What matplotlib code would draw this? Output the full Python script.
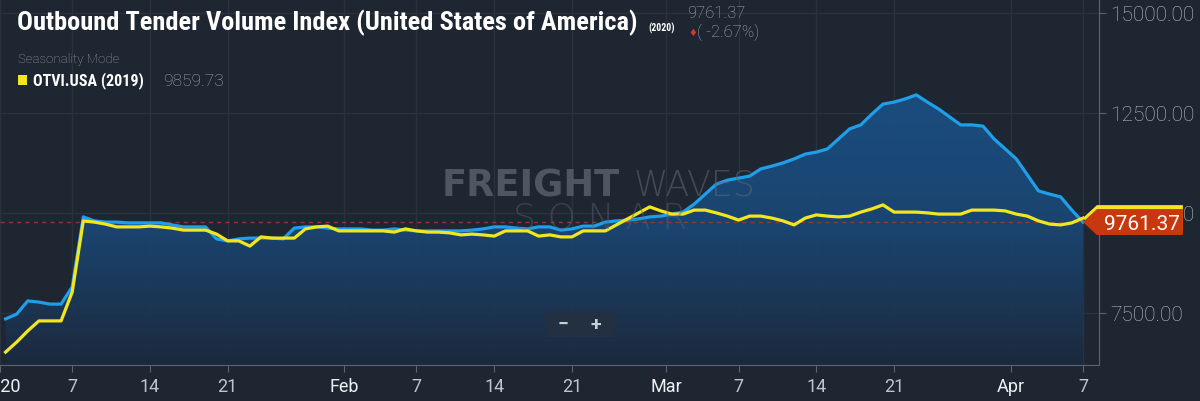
import numpy as np
import pandas as pd
import matplotlib
matplotlib.use("Agg")
import matplotlib.pyplot as plt
import matplotlib.dates as mdates
from matplotlib import font_manager
from matplotlib.patches import Polygon, Rectangle, PathPatch
from matplotlib.colors import LinearSegmentedColormap
from matplotlib.transforms import IdentityTransform

# daily values, Jan 1 .. Apr 7 2020
dates = pd.date_range("2020-01-01", "2020-04-07", freq="D")

otvi_2020 = [
    7340, 7460, 7790, 7760, 7710, 7710, 8140, 9890, 9790, 9760,
    9760, 9740, 9740, 9740, 9740, 9690, 9640, 9640, 9640, 9340,
    9290, 9340, 9360, 9360, 9360, 9340, 9610, 9640, 9640, 9610,
    9590, 9590, 9590, 9560, 9560, 9590, 9560, 9540, 9540, 9540,
    9540, 9540, 9560, 9590, 9640, 9640, 9610, 9590, 9640, 9640,
    9560, 9590, 9660, 9660, 9760, 9790, 9810, 9840, 9890, 9910,
    9960, 10010, 10210, 10460, 10710, 10810, 10860, 10910, 11090, 11160,
    11240, 11340, 11460, 11510, 11590, 11840, 12090, 12190, 12460, 12710,
    12760, 12840, 12940, 12760, 12590, 12390, 12190, 12190, 12160, 11840,
    11590, 11340, 10940, 10540, 10460, 10390, 10060, 9761.37,
]

otvi_2019 = [
    6510, 6760, 7040, 7290, 7290, 7290, 8010, 9790, 9760, 9710,
    9640, 9640, 9640, 9660, 9640, 9610, 9560, 9560, 9560, 9460,
    9290, 9290, 9160, 9390, 9360, 9360, 9360, 9590, 9640, 9660,
    9540, 9540, 9540, 9540, 9540, 9510, 9590, 9540, 9510, 9510,
    9490, 9440, 9460, 9440, 9410, 9540, 9540, 9540, 9410, 9440,
    9390, 9390, 9540, 9540, 9540, 9690, 9840, 9990, 10140, 10040,
    9960, 9960, 10060, 10060, 9990, 9910, 9810, 9910, 9910, 9860,
    9790, 9690, 9860, 9940, 9910, 9890, 9910, 10010, 10090, 10190,
    10010, 10010, 10010, 9990, 9960, 9960, 9960, 10060, 10060, 10060,
    10040, 9960, 9910, 9790, 9710, 9690, 9740, 9859.73,
]

last_2020 = 9761.37
last_2019 = 9859.73
change_pct = -2.67

y_ticks = [7500, 10000, 12500, 15000]
month_ticks = ["2020-01-01", "2020-02-01", "2020-03-01", "2020-04-01"]
month_labels = ["2020", "Feb", "Mar", "Apr"]
day_ticks = ["2020-01-07", "2020-01-14", "2020-01-21",
             "2020-02-07", "2020-02-14", "2020-02-21",
             "2020-03-07", "2020-03-14", "2020-03-21", "2020-04-07"]
day_labels = ["7", "14", "21", "7", "14", "21", "7", "14", "21", "7"]

BG = "#1e2631"
BLUE = "#1f9ee9"
YELLOW = "#f2e71f"
GRID = "#29323d"
AXIS = "#5b6470"

available = {f.name for f in font_manager.fontManager.ttflist}
narrow = next((f for f in ["Roboto Condensed", "Liberation Sans Narrow", "Roboto"]
               if f in available), "DejaVu Sans")
plt.rcParams["font.family"] = ["Roboto", "DejaVu Sans"]

fig = plt.figure(figsize=(12, 4.02), dpi=100, facecolor=BG)
ax = fig.add_axes([0, 1 - 366 / 402, 1099 / 1200, 366 / 402])
ax.set_facecolor(BG)

x = mdates.date2num(dates)
ylo, yhi = 6187.5, 15337.5
x0, x1 = x[0] - 0.29, x[0] + 98.45
ax.set_xlim(x0, x1)
ax.set_ylim(ylo, yhi)

# watermark (sits behind the area fill)
def px(xp, yp):
    return xp / 1200, 1 - yp / 402

fig.text(*px(442, 186), "FREIGHT", fontsize=26.5, fontweight="bold",
         family=["DejaVu Sans"], color="#5b636d", alpha=0.8, va="center")
fig.text(*px(634, 186), "WAVES", fontsize=25, fontweight="light",
         family=["DejaVu Sans"], color="#5b636d", alpha=0.6, va="center")
fig.text(*px(600, 219), "S O N A R", fontsize=26, fontweight="light",
         family=["DejaVu Sans"], color="#5b636d", alpha=0.45,
         va="center", ha="center")

# gradient area under 2020 line
poly = ax.fill_between(x, otvi_2020, ylo, color="none", lw=0)
clip = PathPatch(poly.get_paths()[0], transform=ax.transData,
                 facecolor="none", edgecolor="none")
ax.add_patch(clip)
cmap = LinearSegmentedColormap.from_list("fill", ["#1c2a3e", "#1a4774", "#1a5085"])
grad = np.linspace(0, 1, 256).reshape(-1, 1)
im = ax.imshow(grad, extent=[x0, x1, ylo, 13000], aspect="auto", cmap=cmap,
               origin="lower", zorder=1, interpolation="bilinear", alpha=0.93)
im.set_clip_path(clip)
ax.patch.set_alpha(0)

ax.axhline(last_2020, color="#8c3b2f", lw=1, dashes=(3, 3), zorder=2)
ax.plot(x, otvi_2020, color=BLUE, lw=2.3, zorder=3, solid_joinstyle="round")
ax.plot(x, otvi_2019, color=YELLOW, lw=2.3, zorder=4, solid_joinstyle="round")

# ticks
half = pd.Timedelta(hours=12)
mpos = mdates.date2num(pd.to_datetime(month_ticks) - half)
dpos = mdates.date2num(pd.to_datetime(day_ticks))
ax.set_xticks(list(mpos) + list(dpos))
ax.set_xticklabels(month_labels + day_labels)
ax.tick_params(axis="x", colors=AXIS, labelcolor="#bfc5cc", labelsize=13,
               length=5, pad=4)
for lbl in ax.get_xticklabels()[:len(month_labels)]:
    lbl.set_color("#eef1f4")

ax.yaxis.tick_right()
ax.set_yticks(y_ticks)
ax.set_yticklabels([f"{v:.2f}" for v in y_ticks])
ax.tick_params(axis="y", colors=AXIS, labelcolor="#b7bec6", labelsize=15,
               length=5, pad=3)
for lbl in ax.get_yticklabels():
    lbl.set_fontweight("light")

ax.grid(True, color=GRID, lw=1)
ax.set_axisbelow(True)
for s in ["top", "left"]:
    ax.spines[s].set_visible(False)
ax.spines["right"].set_color(AXIS)
ax.spines["bottom"].set_color(AXIS)

# last value tags on the right axis
def tag(value, face, z, label=None):
    xd, yd = ax.transData.transform((x[-1], value))
    h = 13
    verts = [(xd, yd), (xd + 14, yd + h), (xd + 100, yd + h),
             (xd + 100, yd - h), (xd + 14, yd - h)]
    fig.add_artist(Polygon(verts, closed=True, transform=IdentityTransform(),
                           facecolor=face, edgecolor="none", zorder=z,
                           clip_on=False))
    if label:
        fig.text(xd + 59, yd - 1, label, transform=IdentityTransform(),
                 color="white", fontsize=15, ha="center", va="center", zorder=z + 1)

tag(last_2019, YELLOW, 10)
tag(last_2020, "#c8380f", 11, f"{last_2020:.2f}")

# header texts
fig.text(*px(17, 23), "Outbound Tender Volume Index (United States of America)",
         family=narrow, fontweight="bold", fontsize=19, color="white", va="center")
fig.text(*px(648, 28), "(2020)", family=narrow, fontweight="bold", fontsize=7,
         color="white", va="center")
fig.text(*px(687, 13), f"{last_2020:.2f}", fontsize=12, color="#a7aeb6",
         va="center", fontweight="light")
fig.text(*px(688, 33), "\u2666", fontsize=7, color="#e0342c", va="center",
         family=["DejaVu Sans"])
fig.text(*px(697, 32), f"( {change_pct:.2f}%)", fontsize=12, color="#a7aeb6",
         va="center", fontweight="light")
fig.text(*px(18, 60), "Seasonality Mode", fontsize=9.5, color="#979ea7",
         va="center", fontweight="light")
fig.add_artist(Rectangle(px(18, 86), 9 / 1200, 10 / 402, transform=fig.transFigure,
                         facecolor=YELLOW, edgecolor="none"))
fig.text(*px(33, 81), "OTVI.USA (2019)", family=narrow, fontweight="bold",
         fontsize=11.5, color="white", va="center")
fig.text(*px(163, 81), f"{last_2019:.2f}", fontsize=12.5, color="#a0a7b0",
         va="center", fontweight="light")

# zoom buttons
fig.add_artist(Rectangle(px(545, 338), 70 / 1200, 25 / 402, transform=fig.transFigure,
                         facecolor="#223041", edgecolor="none", zorder=5))
fig.text(*px(563, 325), "\u2212", fontsize=14, fontweight="bold", color="#c9ced4",
         va="center", ha="center", zorder=6)
fig.text(*px(596, 325), "+", fontsize=14, fontweight="bold", color="#c9ced4",
         va="center", ha="center", zorder=6)

fig.savefig("out.png", facecolor=BG)
